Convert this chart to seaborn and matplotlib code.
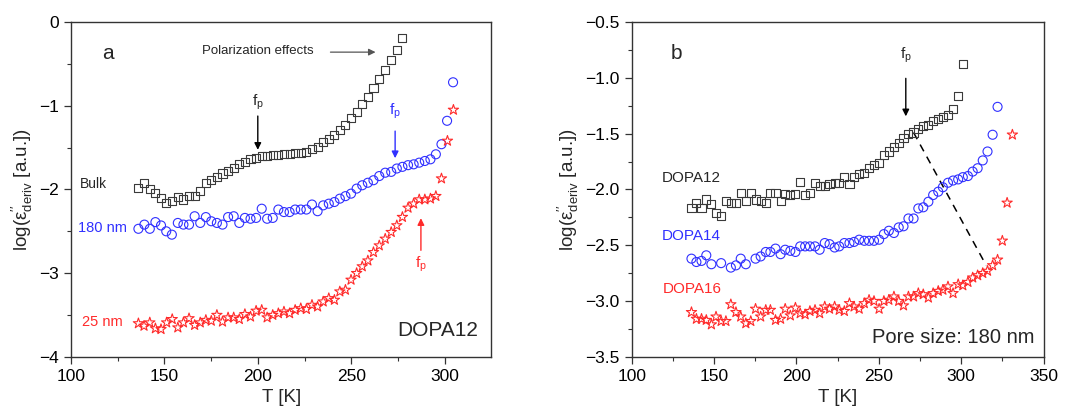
import numpy as np
import matplotlib
matplotlib.use("Agg")
import matplotlib.pyplot as plt
import seaborn as sns

# panel a : DOPA12, bulk vs pores
T_bulk = [136.1, 139.3, 142.2, 145.2, 148.2, 151.0, 154.0, 157.2, 160.2, 163.2, 166.2, 169.2,
          172.2, 175.1, 178.1, 181.1, 184.1, 187.1, 190.1, 193.1, 196.1, 199.1, 202.1, 205.0,
          208.0, 211.0, 214.0, 217.0, 220.0, 223.0, 226.0, 229.0, 232.0, 235.0, 238.0, 241.0,
          243.9, 246.9, 249.9, 252.9, 255.9, 258.9, 261.9, 265.0, 268.2, 271.4, 274.4, 277.4]
eps_bulk = [-1.98, -1.92, -2.00, -2.04, -2.10, -2.16, -2.14, -2.09, -2.12, -2.08, -2.08, -2.02,
            -1.92, -1.89, -1.85, -1.81, -1.78, -1.74, -1.70, -1.67, -1.64, -1.62, -1.60, -1.60,
            -1.59, -1.59, -1.58, -1.58, -1.57, -1.57, -1.55, -1.52, -1.49, -1.43, -1.40, -1.35,
            -1.29, -1.23, -1.15, -1.07, -0.98, -0.90, -0.79, -0.68, -0.57, -0.45, -0.33, -0.19]

T_180 = [136.1, 139.3, 142.2, 145.2, 148.2, 151.0, 154.0, 157.2, 160.2, 163.2, 166.2, 169.2,
         172.2, 175.1, 178.1, 181.1, 184.1, 187.1, 190.1, 193.1, 196.1, 199.1, 202.1, 205.0,
         208.0, 211.0, 214.0, 217.0, 220.0, 223.0, 226.0, 229.0, 232.0, 235.0, 238.0, 241.0,
         243.9, 246.9, 249.9, 252.9, 255.9, 258.9, 261.9, 265.0, 268.2, 271.4, 274.4, 277.4,
         280.4, 283.4, 286.4, 289.4, 292.4, 295.3, 298.3, 301.3, 304.5]
eps_180 = [-2.47, -2.42, -2.47, -2.39, -2.43, -2.50, -2.54, -2.40, -2.42, -2.42, -2.32, -2.40,
           -2.33, -2.38, -2.40, -2.42, -2.33, -2.32, -2.40, -2.34, -2.35, -2.34, -2.23, -2.35,
           -2.34, -2.24, -2.27, -2.27, -2.24, -2.24, -2.24, -2.18, -2.26, -2.19, -2.17, -2.15,
           -2.11, -2.08, -2.05, -1.99, -1.95, -1.92, -1.89, -1.84, -1.80, -1.79, -1.75, -1.73,
           -1.71, -1.70, -1.68, -1.66, -1.64, -1.58, -1.46, -1.18, -0.72]

T_25 = [136.1, 139.1, 142.2, 145.2, 148.2, 151.2, 154.2, 157.2, 160.2, 163.2, 166.2, 169.2,
        172.2, 175.1, 178.1, 181.1, 184.1, 187.1, 190.1, 193.1, 196.1, 199.1, 202.1, 205.0,
        208.0, 211.0, 214.0, 217.0, 220.0, 223.0, 226.0, 229.0, 232.0, 235.0, 238.0, 241.0,
        243.9, 246.9, 249.9, 252.9, 255.9, 258.9, 261.9, 265.0, 268.2, 271.4, 274.4, 277.4,
        280.4, 283.4, 286.4, 289.4, 292.4, 295.3, 298.3, 301.5, 304.7]
eps_25 = [-3.60, -3.63, -3.59, -3.66, -3.67, -3.59, -3.55, -3.65, -3.59, -3.54, -3.62, -3.59,
          -3.56, -3.57, -3.50, -3.58, -3.53, -3.53, -3.55, -3.49, -3.52, -3.45, -3.44, -3.53,
          -3.50, -3.48, -3.46, -3.48, -3.44, -3.42, -3.43, -3.38, -3.40, -3.34, -3.30, -3.32,
          -3.22, -3.20, -3.08, -3.00, -2.92, -2.85, -2.75, -2.67, -2.59, -2.51, -2.43, -2.33,
          -2.22, -2.17, -2.12, -2.12, -2.11, -2.08, -1.87, -1.42, -1.05]

# panel b : 180 nm pores, DOPA12/14/16
T_d12 = [136.3, 139.3, 142.4, 145.3, 148.4, 151.2, 154.3, 157.2, 160.2, 163.3, 166.2, 169.3,
         172.3, 175.2, 178.3, 181.4, 184.2, 187.3, 190.4, 193.2, 196.3, 199.4, 202.3, 205.3,
         208.2, 211.3, 214.1, 217.2, 220.1, 223.2, 226.0, 229.1, 232.2, 235.0, 238.1, 241.2,
         244.1, 247.1, 250.2, 253.1, 256.1, 259.2, 262.1, 265.0, 268.0, 271.1, 274.0, 277.0,
         280.1, 283.0, 286.1, 288.9, 292.0, 295.1, 298.2, 301.0]
eps_d12 = [-2.17, -2.12, -2.17, -2.09, -2.13, -2.21, -2.24, -2.10, -2.12, -2.12, -2.03, -2.10,
           -2.03, -2.09, -2.10, -2.12, -2.03, -2.03, -2.10, -2.04, -2.05, -2.04, -1.93, -2.05,
           -2.03, -1.94, -1.97, -1.97, -1.95, -1.94, -1.94, -1.89, -1.95, -1.89, -1.86, -1.85,
           -1.81, -1.78, -1.76, -1.69, -1.66, -1.62, -1.58, -1.54, -1.50, -1.49, -1.46, -1.43,
           -1.42, -1.39, -1.37, -1.35, -1.33, -1.28, -1.16, -0.88]

T_d14 = [136.3, 139.3, 142.4, 145.3, 148.4, 154.3, 160.2, 163.3, 166.2, 169.3, 175.2, 178.3,
         181.4, 184.2, 187.3, 190.4, 193.2, 196.3, 199.4, 202.3, 205.3, 208.2, 211.3, 214.1,
         217.2, 220.1, 223.2, 226.0, 229.1, 232.2, 235.0, 238.1, 241.2, 244.1, 247.1, 250.2,
         253.1, 256.1, 259.2, 262.1, 265.0, 268.0, 271.1, 274.0, 277.0, 280.1, 283.0, 286.1,
         288.9, 292.0, 295.1, 298.2, 301.0, 304.1, 307.0, 310.0, 313.1, 316.0, 319.1, 322.1]
eps_d14 = [-2.62, -2.65, -2.64, -2.59, -2.67, -2.66, -2.70, -2.68, -2.62, -2.67, -2.62, -2.60,
           -2.56, -2.56, -2.53, -2.58, -2.54, -2.55, -2.56, -2.51, -2.51, -2.51, -2.51, -2.54,
           -2.48, -2.49, -2.52, -2.51, -2.48, -2.48, -2.47, -2.45, -2.46, -2.46, -2.46, -2.45,
           -2.40, -2.37, -2.39, -2.34, -2.33, -2.26, -2.26, -2.17, -2.16, -2.11, -2.05, -2.02,
           -1.98, -1.94, -1.92, -1.91, -1.89, -1.88, -1.84, -1.81, -1.74, -1.66, -1.51, -1.26]

T_d16 = [136.3, 139.3, 142.4, 145.3, 148.4, 151.2, 154.3, 157.2, 160.2, 163.3, 166.2, 169.3,
         172.3, 175.2, 178.3, 181.4, 184.2, 187.3, 190.4, 193.2, 196.3, 199.4, 202.3, 205.3,
         208.2, 211.3, 214.1, 217.2, 220.1, 223.2, 226.0, 229.1, 232.2, 235.0, 238.1, 241.2,
         244.1, 247.1, 250.2, 253.1, 256.1, 259.2, 262.1, 265.0, 268.0, 271.1, 274.0, 277.0,
         280.1, 283.0, 286.1, 288.9, 292.0, 295.1, 298.2, 301.0, 304.1, 307.0, 310.0, 313.1,
         316.0, 319.1, 322.1, 325.0, 327.9, 331.1]
eps_d16 = [-3.10, -3.16, -3.16, -3.17, -3.21, -3.14, -3.18, -3.18, -3.03, -3.10, -3.14, -3.20,
           -3.18, -3.07, -3.14, -3.08, -3.08, -3.17, -3.16, -3.07, -3.13, -3.06, -3.11, -3.12,
           -3.09, -3.08, -3.11, -3.05, -3.07, -3.05, -3.08, -3.09, -3.02, -3.05, -3.07, -3.02,
           -2.99, -3.00, -3.07, -3.00, -2.99, -2.96, -3.00, -3.04, -2.96, -2.96, -2.93, -2.94,
           -2.97, -2.93, -2.91, -2.90, -2.87, -2.93, -2.85, -2.86, -2.83, -2.79, -2.77, -2.75,
           -2.73, -2.68, -2.63, -2.46, -2.12, -1.51]

sns.set_style("ticks")
plt.rcParams["font.family"] = ["Liberation Sans", "DejaVu Sans"]
plt.rcParams["mathtext.fontset"] = "custom"
plt.rcParams["mathtext.rm"] = "Liberation Sans"
plt.rcParams["mathtext.it"] = "Liberation Sans:italic"

GRAY = "#3a3a3a"
BLUE = "#3030ff"
RED = "#ff2a2a"
ylab = r"log($\mathrm{\varepsilon}^{\prime\prime}_{\mathrm{deriv}}$ [a.u.])"

fig = plt.figure(figsize=(10.67, 4.15), dpi=100)
axa = fig.add_axes([0.0665, 0.14, 0.394, 0.807])
axb = fig.add_axes([0.592, 0.14, 0.386, 0.807])


def pts(ax, x, y, color, marker, size):
    sns.scatterplot(x=x, y=y, ax=ax, marker=marker, s=size, facecolor="none",
                    edgecolor=color, linewidth=0.8, zorder=3)


pts(axa, T_bulk, eps_bulk, GRAY, "s", 34)
pts(axa, T_180, eps_180, BLUE, "o", 42)
pts(axa, T_25, eps_25, RED, "*", 60)

pts(axb, T_d12, eps_d12, GRAY, "s", 34)
pts(axb, T_d14, eps_d14, BLUE, "o", 42)
pts(axb, T_d16, eps_d16, RED, "*", 60)

for ax in (axa, axb):
    for s in ax.spines.values():
        s.set_color("#333333")
        s.set_linewidth(1.0)
    ax.tick_params(which="major", direction="out", length=5, width=0.9, labelsize=12.5,
                   colors="#333333", labelcolor="black")
    ax.tick_params(which="minor", direction="out", length=3, width=0.8, colors="#333333")
    ax.set_xlabel("T [K]", fontsize=13.5, labelpad=4)
    ax.set_ylabel(ylab, fontsize=13.5, labelpad=3)

axa.set_xlim(100, 325)
axa.set_ylim(-4, 0)
axa.set_xticks([100, 150, 200, 250, 300])
axa.set_xticks(np.arange(125, 325, 50), minor=True)
axa.set_yticks([-4, -3, -2, -1, 0])
axa.set_yticks([-3.5, -2.5, -1.5, -0.5], minor=True)
axa.set_yticklabels(["\u22124", "\u22123", "\u22122", "\u22121", "0"])

axb.set_xlim(100, 350)
axb.set_ylim(-3.5, -0.5)
axb.set_xticks([100, 150, 200, 250, 300, 350])
axb.set_xticks(np.arange(125, 350, 50), minor=True)
axb.set_yticks(np.arange(-3.5, -0.49, 0.5))
axb.set_yticks(np.arange(-3.25, -0.5, 0.5), minor=True)
axb.set_yticklabels(["\u22123.5", "\u22123.0", "\u22122.5", "\u22122.0", "\u22121.5",
                     "\u22121.0", "\u22120.5"])

# panel a annotations
axa.text(120, -0.38, "a", fontsize=15, ha="center", va="center")
axa.text(200, -0.35, "Polarization effects", fontsize=9.5, ha="center", va="center")
axa.annotate("", xy=(264.5, -0.36), xytext=(237.4, -0.36),
             arrowprops=dict(arrowstyle="-|>", color="#555555", lw=0.9, mutation_scale=10))
axa.text(200, -0.96, r"f$_\mathrm{p}$", fontsize=11, ha="center", va="center")
axa.annotate("", xy=(200, -1.56), xytext=(200, -1.09),
             arrowprops=dict(arrowstyle="-|>", color="black", lw=1.0, mutation_scale=10))
axa.text(273.5, -1.07, r"f$_\mathrm{p}$", fontsize=11, ha="center", va="center", color=BLUE)
axa.annotate("", xy=(273.5, -1.66), xytext=(273.5, -1.27),
             arrowprops=dict(arrowstyle="-|>", color=BLUE, lw=1.0, mutation_scale=10))
axa.text(287.3, -2.9, r"f$_\mathrm{p}$", fontsize=11, ha="center", va="center", color=RED)
axa.annotate("", xy=(287.3, -2.31), xytext=(287.3, -2.76),
             arrowprops=dict(arrowstyle="-|>", color=RED, lw=1.0, mutation_scale=10))
axa.text(112, -1.94, "Bulk", fontsize=10, ha="center", va="center")
axa.text(116.8, -2.46, "180 nm", fontsize=10.5, ha="center", va="center", color=BLUE)
axa.text(117, -3.58, "25 nm", fontsize=10.5, ha="center", va="center", color=RED)
axa.text(318, -3.69, "DOPA12", fontsize=15, ha="right", va="center")

# panel b annotations
axb.text(127, -0.78, "b", fontsize=15, ha="center", va="center")
axb.text(266.4, -0.80, r"f$_\mathrm{p}$", fontsize=11, ha="center", va="center")
axb.annotate("", xy=(266.4, -1.37), xytext=(266.4, -0.98),
             arrowprops=dict(arrowstyle="-|>", color="black", lw=1.0, mutation_scale=10))
axb.plot([271.1, 315.2], [-1.49, -2.68], ls=(0, (5, 4)), color="black", lw=1.1)
axb.text(118.4, -1.90, "DOPA12", fontsize=11, ha="left", va="center")
axb.text(118.0, -2.42, "DOPA14", fontsize=11, ha="left", va="center", color=BLUE)
axb.text(118.8, -2.89, "DOPA16", fontsize=11, ha="left", va="center", color=RED)
axb.text(344.3, -3.33, "Pore size: 180 nm", fontsize=14.5, ha="right", va="center")

fig.savefig("out.png", dpi=100)
